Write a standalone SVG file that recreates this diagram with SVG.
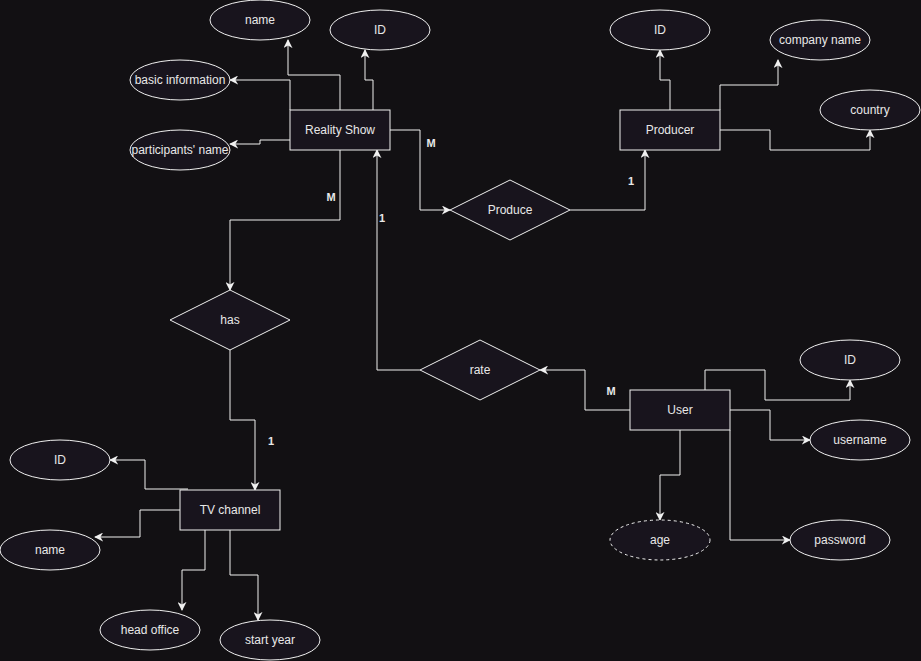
<svg xmlns="http://www.w3.org/2000/svg" width="921" height="661" viewBox="0 0 921 661">
<defs>
<marker id="arr" viewBox="0 0 10 10" refX="9" refY="5" markerWidth="9" markerHeight="9" markerUnits="userSpaceOnUse" orient="auto">
<path d="M0,0 L10,5 L0,10 L3,5 z" fill="#f0f0f0"/>
</marker>
<style>
.shape{fill:#18141d;stroke:#f0f0f0;stroke-width:1}
.dash{stroke-dasharray:3,3}
.t{font-family:"Liberation Sans",Arial,sans-serif;font-size:12px;fill:#e8e8e8;text-anchor:middle;dominant-baseline:central}
.lbl{font-family:"Liberation Sans",Arial,sans-serif;font-size:11px;font-weight:bold;fill:#e8e8e8;text-anchor:middle;dominant-baseline:central}
.c{fill:none;stroke:#f0f0f0;stroke-width:1;marker-end:url(#arr)}
</style>
</defs>
<rect width="921" height="661" fill="#121013"/>
<g id="connectors">
<path class="c" d="M340,110 L340,75 L288,75 L288,40"/>
<path class="c" d="M373,110 L373,80 L365,80 L365,50"/>
<path class="c" d="M290,110 L290,80 L230,80"/>
<path class="c" d="M290,140 L260,140 L260,144 L230,144"/>
<path class="c" d="M390,130 L420,130 L420,210 L450,210"/>
<path class="c" d="M570,210 L645,210 L645,150"/>
<path class="c" d="M670,110 L670,80 L660,80 L660,50"/>
<path class="c" d="M720,110 L720,85 L778,85 L778,60"/>
<path class="c" d="M720,130 L770,130 L770,150 L870,150 L870,130"/>
<path class="c" d="M420,370 L377,370 L377,150"/>
<path class="c" d="M630,410 L585,410 L585,370 L540,370"/>
<path class="c" d="M705,390 L705,370 L765,370 L765,400 L850,400 L850,380"/>
<path class="c" d="M730,410 L770,410 L770,440 L810,440"/>
<path class="c" d="M680,430 L680,475 L660,475 L660,520"/>
<path class="c" d="M730,430 L730,540 L790,540"/>
<path class="c" d="M340,150 L340,220 L230,220 L230,290"/>
<path class="c" d="M230,350 L230,420 L255,420 L255,490"/>
<path class="c" d="M188,489 L145,489 L145,460 L110,460"/>
<path class="c" d="M180,510 L140,510 L140,537 L95,537"/>
<path class="c" d="M205,530 L205,570 L182,570 L182,610"/>
<path class="c" d="M230,530 L230,575 L258,575 L258,620"/>
<text class="lbl" x="431" y="143">M</text>
<text class="lbl" x="631" y="181">1</text>
<text class="lbl" x="331" y="197">M</text>
<text class="lbl" x="382" y="218">1</text>
<text class="lbl" x="611" y="391">M</text>
<text class="lbl" x="271" y="441">1</text>
</g>
<g id="reality-show"><rect class="shape" x="290" y="110" width="100" height="40"/><text class="t" x="340" y="130">Reality Show</text></g>
<g id="rs-name"><ellipse class="shape" cx="260" cy="20" rx="50" ry="20"/><text class="t" x="260" y="20">name</text></g>
<g id="rs-id"><ellipse class="shape" cx="380" cy="30" rx="50" ry="20"/><text class="t" x="380" y="30">ID</text></g>
<g id="rs-basic"><ellipse class="shape" cx="180" cy="80" rx="50" ry="20"/><text class="t" x="180" y="80">basic information</text></g>
<g id="rs-participants"><ellipse class="shape" cx="180" cy="150" rx="50" ry="20"/><text class="t" x="180" y="150">participants' name</text></g>
<g id="producer"><rect class="shape" x="620" y="110" width="100" height="40"/><text class="t" x="670" y="130">Producer</text></g>
<g id="pr-id"><ellipse class="shape" cx="660" cy="30" rx="50" ry="20"/><text class="t" x="660" y="30">ID</text></g>
<g id="pr-company"><ellipse class="shape" cx="820" cy="40" rx="50" ry="20"/><text class="t" x="820" y="40">company name</text></g>
<g id="pr-country"><ellipse class="shape" cx="870" cy="110" rx="50" ry="20"/><text class="t" x="870" y="110">country</text></g>
<g id="produce"><polygon class="shape" points="450,210 510,180 570,210 510,240"/><text class="t" x="510" y="210">Produce</text></g>
<g id="has"><polygon class="shape" points="170,320 230,290 290,320 230,350"/><text class="t" x="230" y="320">has</text></g>
<g id="rate"><polygon class="shape" points="420,370 480,340 540,370 480,400"/><text class="t" x="480" y="370">rate</text></g>
<g id="user"><rect class="shape" x="630" y="390" width="100" height="40"/><text class="t" x="680" y="410">User</text></g>
<g id="u-id"><ellipse class="shape" cx="850" cy="360" rx="50" ry="20"/><text class="t" x="850" y="360">ID</text></g>
<g id="u-username"><ellipse class="shape" cx="860" cy="440" rx="50" ry="20"/><text class="t" x="860" y="440">username</text></g>
<g id="u-age"><ellipse class="shape dash" cx="660" cy="540" rx="50" ry="20"/><text class="t" x="660" y="540">age</text></g>
<g id="u-password"><ellipse class="shape" cx="840" cy="540" rx="50" ry="20"/><text class="t" x="840" y="540">password</text></g>
<g id="tv-channel"><rect class="shape" x="180" y="490" width="100" height="40"/><text class="t" x="230" y="510">TV channel</text></g>
<g id="tv-id"><ellipse class="shape" cx="60" cy="460" rx="50" ry="20"/><text class="t" x="60" y="460">ID</text></g>
<g id="tv-name"><ellipse class="shape" cx="50" cy="550" rx="50" ry="20"/><text class="t" x="50" y="550">name</text></g>
<g id="tv-head"><ellipse class="shape" cx="150" cy="630" rx="50" ry="20"/><text class="t" x="150" y="630">head office</text></g>
<g id="tv-start"><ellipse class="shape" cx="270" cy="640" rx="50" ry="20"/><text class="t" x="270" y="640">start year</text></g>
</svg>
